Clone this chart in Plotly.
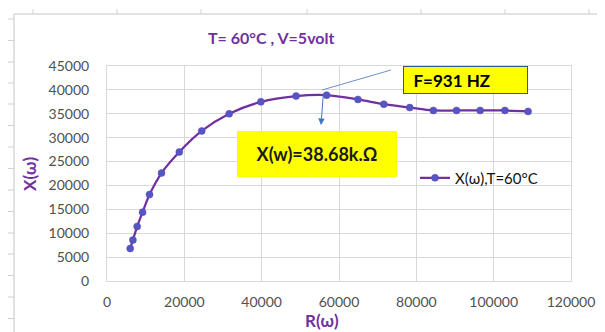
import plotly.graph_objects as go

# ---------------- data ----------------
r_omega = [6000, 6700, 7800, 9200, 11000, 14100, 18700, 24500, 31600, 39800,
           48900, 56800, 64900, 71600, 78300, 84400, 90400, 96500, 102900, 108900]
x_omega = [6800, 8600, 11400, 14400, 18100, 22600, 27000, 31400, 35000, 37500,
           38700, 38900, 38000, 37000, 36300, 35700, 35700, 35700, 35700, 35500]
series_name = "X(ω),T=60°C"
title_text = "T= 60°C , V=5volt"
x_title = "R(ω)"
y_title = "X(ω)"
freq_label = "F=931 HZ"
peak_label = "X(w)=38.68k.Ω"

# page has an 8px body margin: figure is drawn at (8, 8)
OFF = 8
W, H = 605 - OFF, 332 - OFF
# plot area in page pixels: left 107, right 571, top 66, bottom 281
PL, PR, PT, PB = 107, 571, 66, 281
ML, MR, MT, MB = PL - OFF, (605 - PR), PT - OFF, (332 - PB)
PW, PH = PR - PL, PB - PT
XMAX, YMAX = 120000, 45000

def px_x(px):
    return (px - PL) / PW

def px_y(py):
    return (PB - py) / PH

def dx(px):
    return (px - PL) / PW * XMAX

def dy(py):
    return (PB - py) / PH * YMAX

PURPLE = "#7030A0"
FONT = "Lato, 'Liberation Sans', Arial, sans-serif"

fig = go.Figure()
fig.add_trace(go.Scatter(
    x=r_omega, y=x_omega, mode="lines+markers", name=series_name,
    line=dict(color=PURPLE, width=2.25, shape="spline", smoothing=0.8),
    marker=dict(color="#5357C6", size=7, line=dict(color="#6A3FB0", width=0.5)),
    showlegend=True,
))

grid = "#D9D9D9"
fig.update_xaxes(range=[0, XMAX], dtick=20000, tick0=0, showgrid=True, gridcolor=grid,
                 gridwidth=1, zeroline=False, showline=True, linecolor=grid, mirror=True,
                 tickfont=dict(family=FONT, size=14, color="#505050"),
                 ticklabelstandoff=8, tickformat="d", automargin=False)
fig.update_yaxes(range=[0, YMAX], dtick=5000, tick0=0, showgrid=True, gridcolor=grid,
                 gridwidth=1, zeroline=False, showline=True, linecolor=grid, mirror=True,
                 tickfont=dict(family=FONT, size=14, color="#505050"),
                 ticklabelstandoff=14, tickformat="d", automargin=False)

shapes = []
# chart frame (outer border)
shapes.append(dict(type="line", xref="paper", yref="paper", x0=px_x(14), x1=px_x(605),
                   y0=px_y(14), y1=px_y(14), line=dict(color="#D9D9D9", width=1.5)))
shapes.append(dict(type="line", xref="paper", yref="paper", x0=px_x(14), x1=px_x(14),
                   y0=px_y(14), y1=px_y(332), line=dict(color="#D9D9D9", width=1.5)))
for ry in [19, 40.5, 62, 83, 104, 125.5, 147, 168.5, 190, 211.5, 233, 254, 275.5, 297, 318.5]:
    shapes.append(dict(type="line", xref="paper", yref="paper", x0=px_x(8), x1=px_x(14),
                       y0=px_y(ry), y1=px_y(ry), line=dict(color="#D0D0D0", width=1)))
for cx in [33, 117, 201, 307, 421, 505, 589]:
    shapes.append(dict(type="line", xref="paper", yref="paper", x0=px_x(cx), x1=px_x(cx),
                       y0=px_y(9), y1=px_y(14), line=dict(color="#D0D0D0", width=1)))
# leader line from peak point to frequency label
shapes.append(dict(type="line", xref="x", yref="y", x0=dx(322), y0=dy(90), x1=dx(391), y1=dy(70),
                   line=dict(color="#6F8FC4", width=1)))

annotations = [
    dict(text=title_text, xref="paper", yref="paper", x=px_x(271), y=px_y(38),
         showarrow=False, font=dict(family=FONT, size=16, color=PURPLE, weight="bold"),
         xanchor="center", yanchor="middle"),
    dict(text=x_title, xref="paper", yref="paper", x=px_x(322), y=px_y(320),
         showarrow=False, font=dict(family=FONT, size=17, color=PURPLE, weight="bold"),
         xanchor="center", yanchor="middle"),
    dict(text=y_title, xref="paper", yref="paper", x=px_x(29), y=px_y(174), textangle=-90,
         showarrow=False, font=dict(family=FONT, size=17, color=PURPLE, weight="bold"),
         xanchor="center", yanchor="middle"),
    dict(text="\u2002" + freq_label, xref="x", yref="y", x=dx(465), y=dy(79.5),
         showarrow=False, font=dict(family=FONT, size=17, color="#000000", weight="bold"),
         xanchor="center", yanchor="middle", align="left", width=121, height=24,
         bgcolor="#FFFF00", bordercolor="#2F5597", borderwidth=1, borderpad=1),
    dict(text=peak_label, xref="x", yref="y", x=dx(316.5), y=dy(153.5),
         showarrow=False, font=dict(family=FONT, size=18, color="#1a1a1a", weight="bold"),
         xanchor="center", yanchor="middle", align="center", width=160, height=46,
         bgcolor="#FFFF00", borderwidth=0, borderpad=0),
    dict(text="", xref="x", yref="y", axref="x", ayref="y",
         x=dx(321), y=dy(125), ax=dx(323.5), ay=dy(92),
         showarrow=True, arrowhead=2, arrowsize=1.3, arrowwidth=1, arrowcolor="#4472C4",
         standoff=0, startstandoff=0),
]

fig.update_layout(
    width=W, height=H,
    margin=dict(l=ML, r=MR, t=MT, b=MB, pad=0, autoexpand=False),
    paper_bgcolor="white", plot_bgcolor="white",
    shapes=shapes, annotations=annotations,
    showlegend=True,
    legend=dict(x=px_x(415), y=px_y(178), xanchor="left", yanchor="middle",
                bgcolor="rgba(0,0,0,0)", font=dict(family=FONT, size=15, color="#111111"),
                itemwidth=30, tracegroupgap=0),
    font=dict(family=FONT),
)

fig.write_html("out.html")
